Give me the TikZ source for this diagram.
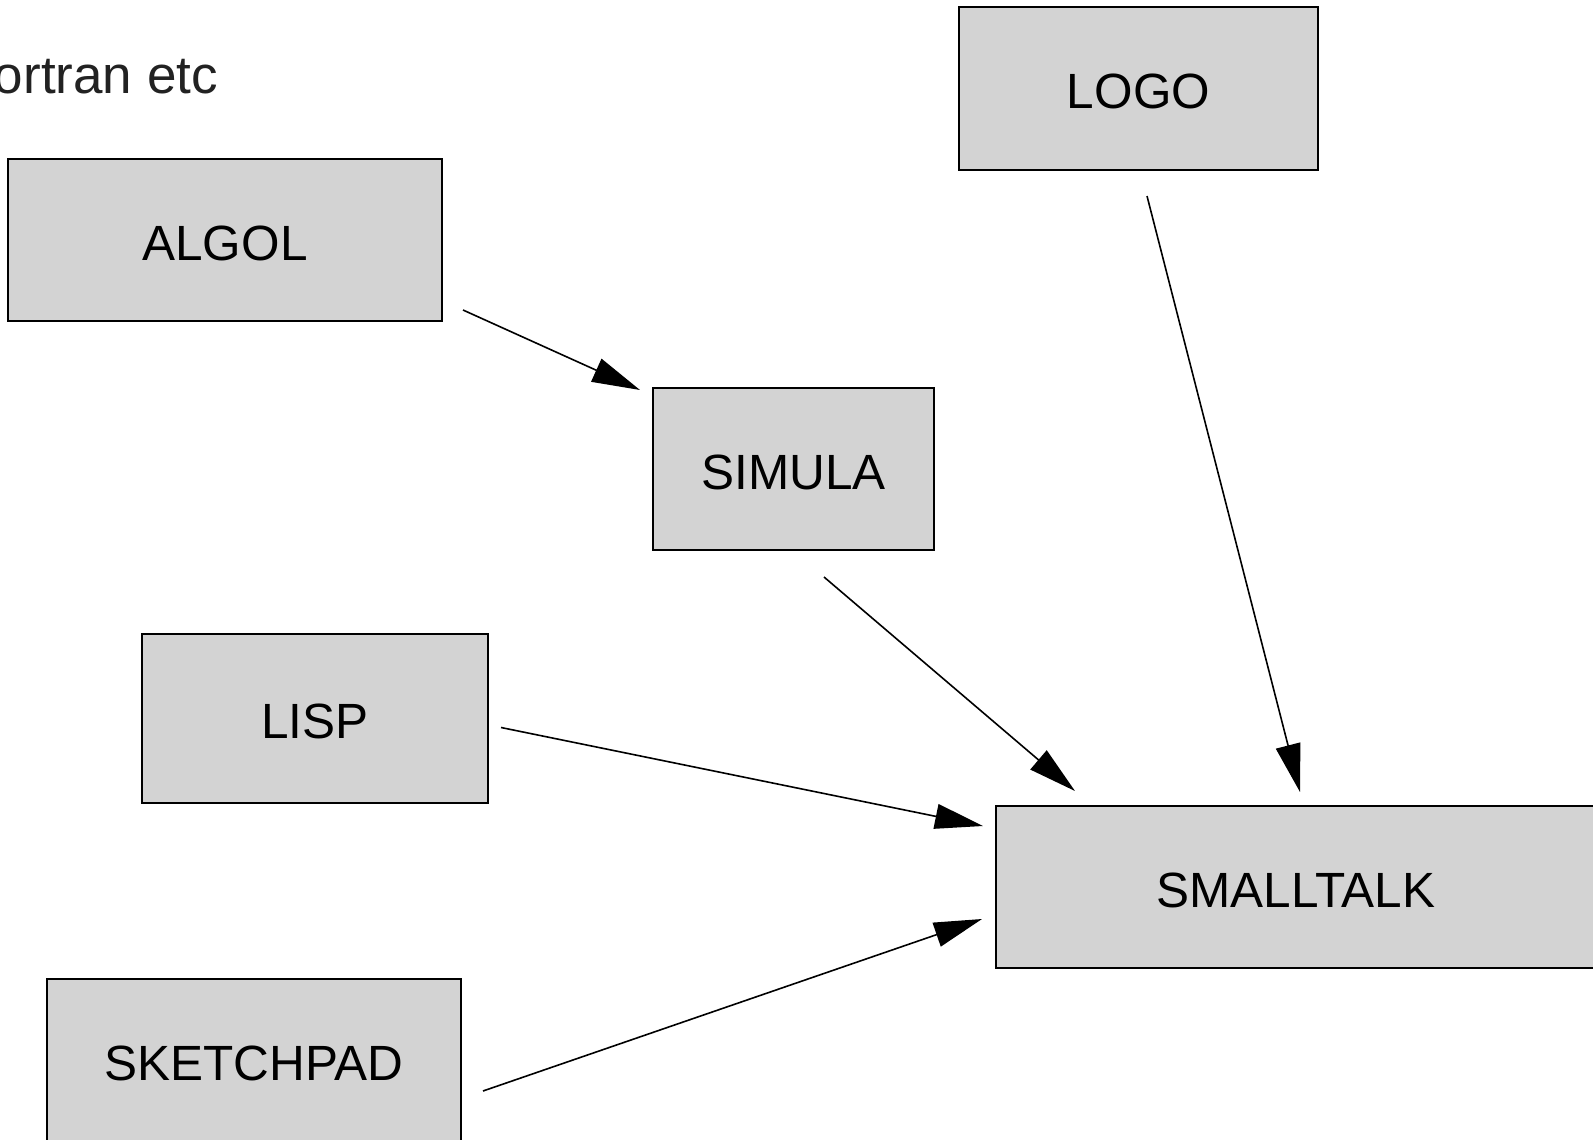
\documentclass[tikz,border=0pt]{standalone}
\usepackage{fontspec}
\setmainfont{Liberation Sans}
\usetikzlibrary{arrows.meta,calc}
\definecolor{boxfill}{HTML}{D3D3D3}
\definecolor{notegray}{HTML}{222222}
\begin{document}
\begin{tikzpicture}[x=1pt,y=-1pt,
  box/.style={draw=black, fill=boxfill, line width=1.8pt, inner sep=0pt, outer sep=0pt,
    font=\fontsize{49.5}{55}\selectfont, text=black, text height=40.4pt, text depth=0pt},
  arr/.style={draw=black, line width=1.6pt, -{Triangle[length=48pt,width=25pt]}}]
\useasboundingbox (0,0) rectangle (1593,1140);
\clip (0,0) rectangle (1593,1140);
\node[anchor=base east, inner sep=0pt, text=notegray, font=\fontsize{53}{60}\selectfont] (fortran) at (218,93) {Fortran etc};
\node[box, minimum width=434pt, minimum height=162pt] (algol) at (225,240) {ALGOL};
\node[box, minimum width=281pt, minimum height=162pt] (simula) at (793.5,469) {SIMULA};
\node[box, minimum width=359pt, minimum height=163pt] (logo) at (1138.5,88.5) {LOGO};
\node[box, minimum width=346pt, minimum height=169pt] (lisp) at (315,718.5) {LISP};
\node[box, minimum width=600pt, minimum height=162pt] (smalltalk) at (1296,887) {SMALLTALK};
\node[box, minimum width=414pt, minimum height=162pt] (sketchpad) at (254,1060) {SKETCHPAD};
\draw[arr] ($(algol.south east)+(21,-11)$) -- ($(simula.north west)+(-13,2)$);
\draw[arr] ($(simula.south)+(30.5,27)$) -- ($(smalltalk.north west)+(79,-15)$);
\draw[arr] ($(logo.south)+(8.5,26)$) -- ($(smalltalk.north west)+(304,-14)$);
\draw[arr] ($(lisp.east)+(13,9)$) -- ($(smalltalk.north west)+(-13,20)$);
\draw[arr] ($(sketchpad.north east)+(22,112)$) -- ($(smalltalk.north west)+(-14,113)$);
\end{tikzpicture}
\end{document}
